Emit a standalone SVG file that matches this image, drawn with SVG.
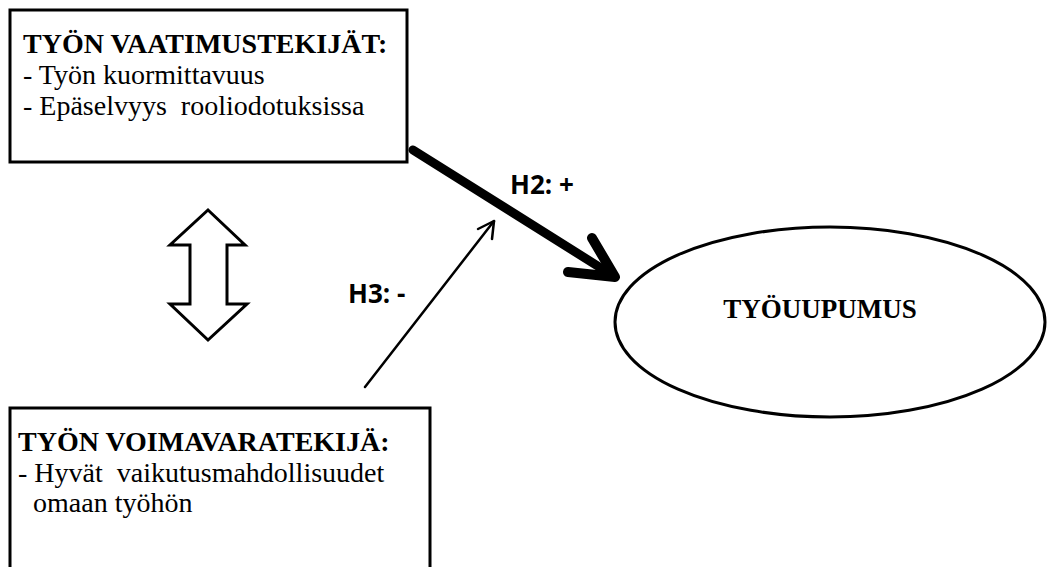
<svg xmlns="http://www.w3.org/2000/svg" width="1047" height="567" viewBox="0 0 1047 567">
<style>
.box{fill:#fff;stroke:#000;stroke-width:3}
.tb{font-family:'Liberation Serif','Times New Roman',Times,serif;font-weight:bold;font-size:28px;fill:#000}
.tr{font-family:'Liberation Serif','Times New Roman',Times,serif;font-weight:normal;font-size:28px;fill:#000}
.lbl{font-family:'Open Sans','Liberation Sans',sans-serif;font-weight:bold;font-size:26px;fill:#000}
</style>
<rect width="1047" height="567" fill="#fff"/>
<g id="vaatimus">
<rect class="box" x="10" y="10" width="397" height="152"/>
<text class="tb" x="23" y="53">TYÖN VAATIMUSTEKIJÄT:</text>
<text class="tr" x="23" y="84">- Työn kuormittavuus</text>
<text class="tr" x="23" y="115" xml:space="preserve">- Epäselvyys  rooliodotuksissa</text>
</g>
<g id="voimavara">
<rect class="box" x="10" y="408" width="420" height="170"/>
<text class="tb" x="18" y="451">TYÖN VOIMAVARATEKIJÄ:</text>
<text class="tr" x="18" y="482" xml:space="preserve">- Hyvät  vaikutusmahdollisuudet</text>
<text class="tr" x="33" y="512">omaan työhön</text>
</g>
<g id="tyouupumus">
<ellipse cx="830" cy="322" rx="215" ry="95" fill="#fff" stroke="#000" stroke-width="3"/>
<text class="tb" x="820" y="318" text-anchor="middle" style="font-size:27px">TYÖUUPUMUS</text>
</g>
<g id="kaksoisnuoli">
<polygon points="208,210 245,245 227,245 227,304 247,304 208,340 170,304 190,304 190,245 170,245" fill="#fff" stroke="#000" stroke-width="3" stroke-linejoin="miter"/>
</g>
<g id="connectors" fill="none" stroke="#000" stroke-linecap="round" stroke-linejoin="round">
<path d="M413,150 L612,275" stroke-width="9"/>
<path d="M592,238 L615,277 L568,272" stroke-width="10"/>
<path d="M365,387 L494,221" stroke-width="2.5"/>
<path d="M478,229 L494,221 L492,239" stroke-width="2.5"/>
</g>
<text class="lbl" x="510" y="194">H2: +</text>
<text class="lbl" x="348" y="303">H3: -</text>
</svg>
